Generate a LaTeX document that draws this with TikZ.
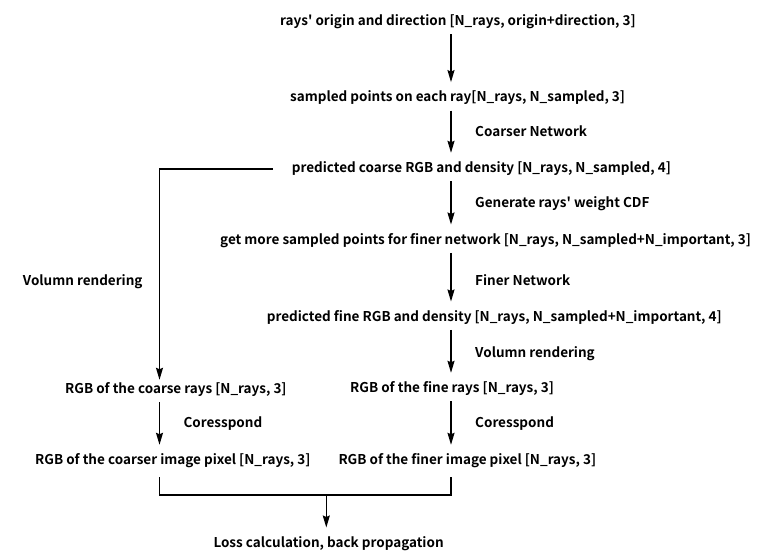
\documentclass[tikz,border=0pt]{standalone}
\usepackage{fontspec}
\setmainfont{Noto Sans CJK SC}[BoldFont={Noto Sans CJK SC Bold},Ligatures=TeXOff]
\usetikzlibrary{arrows.meta,calc}
\begin{document}
\begin{tikzpicture}[x=1pt,y=-1pt,
  txt/.style={anchor=west,inner xsep=0pt,inner ysep=5.5pt,text height=10pt,text depth=3pt,font=\fontsize{13.5}{16}\selectfont\bfseries},
  lbl/.style={txt},
  arr/.style={line width=1.4pt,-{Stealth[length=12pt,width=7pt,inset=1.5pt]},shorten >=4pt},
  plain/.style={line width=1.4pt}]
\useasboundingbox (0,0) rectangle (766,557);
\fill[white] (0,0) rectangle (766,557);
\coordinate (cR) at (451,0);
\coordinate (cL) at (159.5,0);
\coordinate (bk) at (326.3,495);
% main column
\node[txt] (t1) at (280,22) {rays' origin and direction [N\_rays, origin+direction, 3]};
\node[txt] (t2) at (290,98.3) {sampled points on each ray[N\_rays, N\_sampled, 3]};
\node[txt] (t3) at (291.7,169) {predicted coarse RGB and density [N\_rays, N\_sampled, 4]};
\node[txt] (t4) at (220,240.7) {get more sampled points for finer network [N\_rays, N\_sampled+N\_important, 3]};
\node[txt] (t5) at (266.7,317.7) {predicted fine RGB and density [N\_rays, N\_sampled+N\_important, 4]};
\node[txt] (t6R) at (350,389) {RGB of the fine rays [N\_rays, 3]};
\node[txt] (t6L) at (65,390) {RGB of the coarse rays [N\_rays, 3]};
\node[txt] (t7R) at (338.3,461) {RGB of the finer image pixel [N\_rays, 3]};
\node[txt] (t7L) at (35,461) {RGB of the coarser image pixel [N\_rays, 3]};
\node[txt] (loss) at (213.3,543.7) {Loss calculation, back propagation};
% labels
\node[lbl] (l1) at (475,133) {Coarser Network};
\node[lbl] (l2) at (475,204) {Generate rays' weight CDF};
\node[lbl] (l3) at (475,282) {Finer Network};
\node[lbl] (l4) at (475,353.7) {Volumn rendering};
\node[lbl] (l5) at (475,424) {Coresspond};
\node[lbl] (l6) at (183.3,424) {Coresspond};
\node[lbl] (l7) at (22.7,282) {Volumn rendering};
% arrows
\draw[arr] (t1.south -| cR) -- (t2.north -| cR);
\draw[arr] (t2.south -| cR) -- (t3.north -| cR);
\draw[arr] (t3.south -| cR) -- (t4.north -| cR);
\draw[arr] (t4.south -| cR) -- (t5.north -| cR);
\draw[arr] (t5.south -| cR) -- (t6R.north -| cR);
\draw[arr] (t6R.south -| cR) -- (t7R.north -| cR);
\draw[arr] (t6L.south -| cL) -- (t7L.north -| cL);
\draw[arr,shorten <=19pt,shorten >=-2pt] (t3.west) -| (t6L.north -| cL);
\draw[plain,shorten <=4pt,shorten >=4pt] (t7L.south -| cL) |- (bk) -| (t7R.south -| cR);
\draw[arr] (bk) -- (loss.north -| bk);
\end{tikzpicture}
\end{document}
